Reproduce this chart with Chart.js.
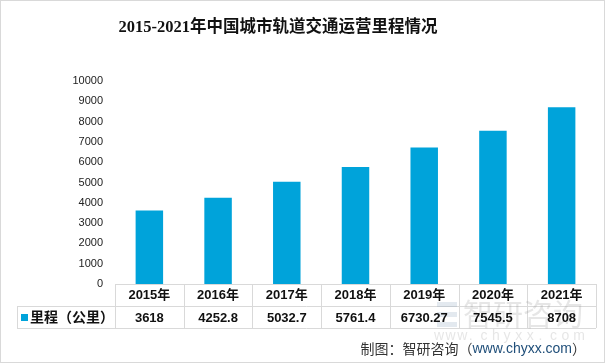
<!DOCTYPE html>
<html><head><meta charset="utf-8">
<script src="https://cdn.jsdelivr.net/npm/chart.js@4/dist/chart.umd.min.js"></script>
<style>html,body{margin:0;padding:0;background:#fff}#wrap{width:605px;height:363px;position:relative}canvas{display:block}</style>
</head><body><div id="wrap"><canvas id="c" width="605" height="363"></canvas></div>
<script>
const titleText = '2015-2021年中国城市轨道交通运营里程情况';
const categories = ['2015年','2016年','2017年','2018年','2019年','2020年','2021年'];
const seriesName = '里程（公里）';
const values = [3618, 4252.8, 5032.7, 5761.4, 6730.27, 7545.5, 8708];
const valueLabels = ['3618','4252.8','5032.7','5761.4','6730.27','7545.5','8708'];
const yMin = 0, yMax = 10000, yStep = 1000;
const sourcePrefix = '制图：智研咨询（';
const sourceUrl = 'www.chyxx.com';
const sourceSuffix = '）';
const barColor = '#00A3DA';

const CJK = '"Noto Sans CJK SC"';
const tablePlugin = {
  id: 'tablePlugin',
  afterDraw(chart) {
    const ctx = chart.ctx;
    const x = chart.scales.x, ca = chart.chartArea;
    const n = categories.length;
    const left = ca.left, right = ca.right;
    const step = (right - left) / n;
    const rowH = 22;
    const top = ca.bottom;
    const legendLeft = 17;
    ctx.save();
    ctx.strokeStyle = '#d9d9d9';
    ctx.lineWidth = 1;
    ctx.strokeRect(0.5, 0.5, chart.width - 1, chart.height - 1);
    ctx.beginPath();
    ctx.moveTo(left, top + 0.5); ctx.lineTo(right, top + 0.5);
    ctx.moveTo(legendLeft, top + rowH + 0.5); ctx.lineTo(right, top + rowH + 0.5);
    ctx.moveTo(legendLeft, top + 2 * rowH + 0.5); ctx.lineTo(right, top + 2 * rowH + 0.5);
    for (let i = 0; i <= n; i++) {
      const bx = Math.round(left + i * step) + 0.5;
      ctx.moveTo(bx, top); ctx.lineTo(bx, top + 2 * rowH);
    }
    ctx.moveTo(legendLeft + 0.5, top + rowH); ctx.lineTo(legendLeft + 0.5, top + 2 * rowH);
    ctx.stroke();
    // watermark (behind text)
    ctx.globalAlpha = 0.22;
    ctx.fillStyle = '#8c8c8c';
    ctx.font = '30px ' + CJK;
    ctx.textAlign = 'left';
    ctx.textBaseline = 'middle';
    ctx.fillText('智研咨询', 463, 314);
    ctx.fillStyle = '#7f9bb8';
    ctx.fillRect(437, 302, 20, 5);
    ctx.fillRect(437, 312, 20, 5);
    ctx.fillRect(437, 322, 20, 5);
    ctx.fillStyle = '#8c8c8c';
    ctx.font = '14px "Liberation Sans"';
    const wm = 'www.chyxx.com';
    for (let i = 0; i < wm.length; i++) ctx.fillText(wm[i], 434 + i * 11.6, 336);
    ctx.globalAlpha = 1;
    // header + values
    ctx.fillStyle = '#111';
    ctx.textAlign = 'center';
    ctx.font = 'bold 13px "Liberation Sans", ' + CJK;
    categories.forEach((c, i) => {
      const cx = x.getPixelForValue(i);
      ctx.fillText(c, cx, top + 11);
      ctx.fillText(valueLabels[i], cx, top + rowH + 12);
    });
    // legend cell
    ctx.fillStyle = barColor;
    ctx.fillRect(21, top + rowH + 8, 7, 7);
    ctx.fillStyle = '#111';
    ctx.textAlign = 'left';
    ctx.font = 'bold 14px ' + CJK;
    ctx.fillText(seriesName, 30, top + rowH + 11);
    // title
    ctx.fillStyle = '#111';
    ctx.textAlign = 'center';
    ctx.font = 'bold 16.5px "Liberation Serif", ' + CJK;
    ctx.fillText(titleText, 278, 28);
    // source
    ctx.textAlign = 'left';
    ctx.font = '14px ' + CJK;
    const wp = ctx.measureText(sourcePrefix).width;
    ctx.font = '14px "Liberation Sans"';
    const wu = ctx.measureText(sourceUrl).width;
    ctx.font = '14px ' + CJK;
    const ws = ctx.measureText(sourceSuffix).width;
    let sx = 586 - (wp + wu + ws);
    ctx.fillStyle = '#333';
    ctx.fillText(sourcePrefix, sx, 349);
    ctx.fillStyle = '#1F4E79';
    ctx.font = '14px "Liberation Sans"';
    ctx.fillText(sourceUrl, sx + wp, 349);
    ctx.fillStyle = '#333';
    ctx.font = '14px ' + CJK;
    ctx.fillText(sourceSuffix, sx + wp + wu, 349);
    ctx.restore();
  }
};

new Chart(document.getElementById('c'), {
  type: 'bar',
  data: {
    labels: categories,
    datasets: [{ label: seriesName, data: values, backgroundColor: barColor, borderWidth: 0,
      categoryPercentage: 1.0, barPercentage: 0.4 }]
  },
  options: {
    responsive: false,
    animation: false,
    devicePixelRatio: 1,
    layout: { padding: { top: 81, right: 9, bottom: 79, left: 0 } },
    plugins: { legend: { display: false }, title: { display: false }, tooltip: { enabled: false } },
    scales: {
      x: { display: false, offset: true },
      y: {
        min: yMin, max: yMax,
        grid: { display: false, drawTicks: false },
        border: { display: false },
        ticks: { stepSize: yStep, padding: 12, color: '#222', font: { family: '"Liberation Sans"', size: 11 },
          callback: v => String(v) },
        afterFit(s) { s.width = 115; }
      }
    }
  },
  plugins: [tablePlugin]
});
</script>
</body></html>
